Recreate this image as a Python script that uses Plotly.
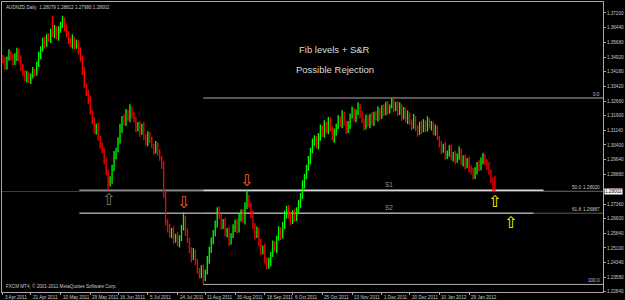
import plotly.graph_objects as go

# ---------------- data ----------------
symbol = "AUDNZD,Daily"
first_open = 1.3490
closes = [
    1.3474, 1.3443, 1.3484, 1.3515, 1.3495, 1.3464, 1.3490, 1.3525, 1.3484, 1.3443,
    1.3413, 1.3382, 1.3402, 1.3372, 1.3392, 1.3423, 1.3413, 1.3454, 1.3500, 1.3536,
    1.3577, 1.3556, 1.3597, 1.3587, 1.3628, 1.3608, 1.3638, 1.3597, 1.3628, 1.3659,
    1.3679, 1.3649, 1.3608, 1.3577, 1.3556, 1.3587, 1.3546, 1.3567, 1.3525, 1.3484,
    1.3423, 1.3346, 1.3310, 1.3269, 1.3207, 1.3166, 1.3115, 1.3136, 1.3074, 1.3038,
    1.3012, 1.2961, 1.2900, 1.2838, 1.2859, 1.2920, 1.2987, 1.3012, 1.3064, 1.3125,
    1.3177, 1.3156, 1.3207, 1.3177, 1.3228, 1.3192, 1.3166, 1.3125, 1.3146, 1.3105,
    1.3136, 1.3084, 1.3054, 1.3095, 1.3064, 1.3033, 1.3012, 1.3043, 1.3002, 1.2971,
    1.2936, 1.2782, 1.2643, 1.2612, 1.2576, 1.2602, 1.2551, 1.2571, 1.2530, 1.2561,
    1.2612, 1.2664, 1.2592, 1.2551, 1.2500, 1.2458, 1.2489, 1.2438, 1.2397, 1.2366,
    1.2407, 1.2356, 1.2387, 1.2448, 1.2500, 1.2541, 1.2592, 1.2633, 1.2705, 1.2674,
    1.2623, 1.2643, 1.2582, 1.2602, 1.2541, 1.2571, 1.2612, 1.2643, 1.2602, 1.2664,
    1.2694, 1.2653, 1.2725, 1.2766, 1.2730, 1.2684, 1.2623, 1.2571, 1.2602, 1.2541,
    1.2489, 1.2510, 1.2448, 1.2417, 1.2438, 1.2479, 1.2530, 1.2500, 1.2561, 1.2602,
    1.2571, 1.2623, 1.2684, 1.2715, 1.2674, 1.2643, 1.2694, 1.2664, 1.2705, 1.2735,
    1.2777, 1.2838, 1.2879, 1.2920, 1.2961, 1.3012, 1.3054, 1.3074, 1.3033, 1.3084,
    1.3125, 1.3095, 1.3146, 1.3115, 1.3166, 1.3125, 1.3074, 1.3105, 1.3136, 1.3177,
    1.3146, 1.3197, 1.3156, 1.3115, 1.3146, 1.3187, 1.3218, 1.3177, 1.3207, 1.3238,
    1.3197, 1.3166, 1.3136, 1.3177, 1.3146, 1.3187, 1.3156, 1.3197, 1.3177, 1.3218,
    1.3187, 1.3228, 1.3207, 1.3249, 1.3218, 1.3238, 1.3269, 1.3228, 1.3249, 1.3207,
    1.3238, 1.3187, 1.3218, 1.3166, 1.3197, 1.3156, 1.3136, 1.3177, 1.3125, 1.3105,
    1.3146, 1.3115, 1.3156, 1.3125, 1.3166, 1.3136, 1.3146, 1.3105, 1.3125, 1.3074,
    1.3043, 1.3012, 1.3033, 1.2982, 1.3002, 1.3023, 1.2971, 1.2992, 1.2961, 1.2982,
    1.3012, 1.2951, 1.2971, 1.2930, 1.2961, 1.2920, 1.2900, 1.2879, 1.2910, 1.2941,
    1.2920, 1.2961, 1.2982, 1.2951, 1.2930, 1.2900, 1.2859, 1.28079, 1.28002,
]
# wick lengths in pips above max(open, close) and below min(open, close)
wick_up = [
    15, 20, 12, 18, 10, 14, 22, 16, 12, 18,
    14, 10, 20, 12, 16, 18, 10, 14, 20, 12,
    16, 22, 14, 18, 12, 77, 20, 14, 24, 16,
    26, 18, 12, 20, 14, 22, 10, 16, 12, 18,
    14, 20, 10, 16, 22, 12, 18, 14, 20, 12,
    16, 10, 14, 12, 20, 18, 22, 14, 16, 24,
    12, 20, 18, 14, 22, 10, 16, 20, 12, 18,
    14, 22, 10, 16, 12, 20, 14, 18, 10, 16,
    12, 20, 16, 14, 22, 10, 18, 12, 20, 14,
    16, 30, 12, 18, 10, 14, 20, 12, 16, 10,
    14, 18, 12, 20, 16, 22, 10, 18, 14, 20,
    12, 16, 22, 10, 18, 14, 20, 12, 16, 22,
    14, 18, 20, 41, 16, 12, 20, 14, 18, 10,
    16, 12, 20, 14, 22, 10, 18, 16, 12, 20,
    14, 22, 18, 12, 16, 20, 10, 18, 14, 22,
    16, 20, 12, 18, 22, 14, 20, 16, 12, 18,
    20, 14, 22, 12, 18, 16, 10, 20, 14, 18,
    12, 22, 16, 10, 18, 14, 20, 12, 16, 22,
    14, 18, 10, 20, 16, 12, 22, 14, 18, 20,
    12, 16, 22, 14, 18, 10, 13, 20, 14, 16,
    22, 12, 18, 14, 20, 10, 16, 22, 12, 18,
    14, 20, 16, 10, 22, 12, 18, 14, 20, 16,
    12, 18, 14, 22, 10, 16, 20, 12, 18, 14,
    22, 10, 16, 20, 12, 18, 14, 22, 16, 12,
    20, 14, 18, 10, 16, 22, 12, 14, 73.3,
]
wick_dn = [
    12, 18, 14, 10, 20, 16, 12, 18, 14, 22,
    16, 12, 20, 14, 18, 10, 22, 16, 12, 18,
    14, 20, 10, 16, 22, 12, 18, 14, 20, 10,
    16, 22, 14, 18, 12, 20, 16, 10, 18, 14,
    22, 12, 18, 16, 10, 20, 14, 22, 12, 18,
    14, 20, 16, 31, 12, 18, 14, 20, 10, 16,
    22, 14, 18, 12, 20, 16, 10, 18, 14, 22,
    12, 18, 16, 20, 14, 10, 22, 16, 18, 12,
    20, 14, 18, 22, 12, 16, 20, 14, 10, 18,
    16, 12, 20, 14, 18, 22, 10, 16, 20, 14,
    12, 34, 18, 14, 20, 16, 12, 22, 18, 14,
    20, 16, 12, 18, 22, 14, 10, 20, 16, 12,
    18, 14, 22, 16, 12, 20, 14, 18, 10, 22,
    16, 12, 20, 18, 14, 22, 16, 10, 18, 14,
    20, 12, 16, 22, 14, 18, 10, 20, 16, 12,
    18, 14, 22, 16, 12, 20, 14, 18, 10, 16,
    22, 12, 18, 14, 20, 16, 10, 22, 18, 14,
    12, 20, 16, 18, 14, 22, 10, 16, 20, 12,
    18, 14, 22, 16, 12, 20, 14, 18, 10, 16,
    20, 12, 18, 14, 22, 16, 10, 20, 14, 18,
    12, 22, 16, 10, 18, 14, 20, 12, 16, 22,
    14, 18, 10, 20, 16, 12, 22, 14, 18, 10,
    16, 20, 12, 18, 14, 22, 10, 16, 20, 12,
    18, 14, 22, 16, 10, 20, 12, 18, 14, 22,
    16, 10, 20, 14, 18, 12, 16, 10, 2.2,
]
date_labels = ["3 Apr 2011", "21 Apr 2011", "10 May 2011", "29 May 2011", "16 Jun 2011",
               "5 Jul 2011", "24 Jul 2011", "11 Aug 2011", "30 Aug 2011", "18 Sep 2011",
               "6 Oct 2011", "25 Oct 2011", "13 Nov 2011", "1 Dec 2011", "20 Dec 2011",
               "10 Jan 2012", "29 Jan 2012"]
date_bars = [0, 14, 29, 44, 58, 73, 88, 102, 117, 132, 146, 161, 176, 191, 205, 220, 235]
price_tick_labels = ["1.37200", "1.36440", "1.35680", "1.34920", "1.34180", "1.33420",
                     "1.32660", "1.31900", "1.31140", "1.30400", "1.29640", "1.28880",
                     "1.28120", "1.27360", "1.26600", "1.25840", "1.25100", "1.24340",
                     "1.23580", "1.22840"]
fib_low_bar = 101
fib_high_bar = 196
fib_levels = [0.0, 50.0, 61.8, 100.0]
s1_price = 1.2807
s2_price = 1.2689

# ---------------- derived OHLC ----------------
n = len(closes)
bars = list(range(n))
opens = [first_open] + closes[:-1]
highs = [max(o, c) + w / 10000 for o, c, w in zip(opens, closes, wick_up)]
lows = [min(o, c) - w / 10000 for o, c, w in zip(opens, closes, wick_dn)]
fib_high = highs[fib_high_bar]
fib_low = lows[fib_low_bar]
fib_prices = [fib_high - lv / 100 * (fib_high - fib_low) for lv in fib_levels]
bid = closes[-1]

XMAX = 302.5
FONT = "Liberation Sans"
TXT = "#c8c8c8"

fig = go.Figure()
fig.add_trace(go.Ohlc(
    x=bars, open=opens, high=highs, low=lows, close=closes,
    increasing=dict(line=dict(color="#00ff00", width=1.3)),
    decreasing=dict(line=dict(color="#ff0000", width=1.3)),
    tickwidth=0.25, hoverinfo="skip", showlegend=False,
))

shapes = []
def hline(y, x0, x1, color, width=1):
    shapes.append(dict(type="line", xref="x", yref="y", x0=x0, x1=x1, y0=y, y1=y,
                       line=dict(color=color, width=width), layer="below"))

# bid line
hline(bid, -0.5, XMAX, "#404040", 1)
# fib lines
for lv, p in zip(fib_levels, fib_prices):
    col = "#b0b0b0" if lv in (0.0, 100.0) else "#5a5a5a"
    hline(p, fib_low_bar, XMAX, col, 1)
# S1 / S2 lines
hline(s1_price, 38.5, fib_low_bar, "#8c8c8c", 1.5)
hline(s1_price, fib_low_bar, 272.5, "#d8d8d8", 1.5)
hline(s2_price, 38.5, 267.5, "#a0a0a0", 1.5)

ann = []
# header
ann.append(dict(xref="paper", yref="paper", x=0, y=1, xanchor="left", yanchor="top",
                xshift=2, yshift=-1, showarrow=False,
                text=f"{symbol}  {opens[-1]:.5f} {highs[-1]:.5f} {lows[-1]:.5f} {closes[-1]:.5f}",
                font=dict(family=FONT, size=4.6, color=TXT)))
# copyright
ann.append(dict(xref="paper", yref="paper", x=0, y=0, xanchor="left", yanchor="bottom",
                xshift=2, yshift=1, showarrow=False,
                text="FXCM MT4, © 2001-2011 MetaQuotes Software Corp.",
                font=dict(family=FONT, size=4.6, color=TXT)))
# titles
ann.append(dict(xref="paper", yref="paper", x=0.554, y=0.835, xanchor="center",
                yanchor="middle", showarrow=False,
                text="Fib levels + S&R", font=dict(family=FONT, size=9.5, color="#dcdcdc")))
ann.append(dict(xref="paper", yref="paper", x=0.554, y=0.766, xanchor="center",
                yanchor="middle", showarrow=False,
                text="Possible Rejection", font=dict(family=FONT, size=9.5, color="#dcdcdc")))
# S labels
ann.append(dict(xref="paper", yref="y", x=0.6436, y=s1_price, xanchor="center",
                yanchor="bottom", showarrow=False, text="S1",
                font=dict(family=FONT, size=6.5, color="#9a9a9a")))
ann.append(dict(xref="paper", yref="y", x=0.6436, y=s2_price, xanchor="center",
                yanchor="bottom", showarrow=False, text="S2",
                font=dict(family=FONT, size=6.5, color="#9a9a9a")))
# fib labels
for lv, p in zip(fib_levels, fib_prices):
    if lv in (0.0, 100.0):
        ann.append(dict(xref="paper", yref="y", x=1, y=p, xanchor="right", yanchor="bottom",
                        xshift=-1, yshift=-1, showarrow=False, text=f"{lv:.1f}",
                        font=dict(family=FONT, size=4.6, color=TXT)))
    else:
        ann.append(dict(xref="paper", yref="y", x=1, y=p, xanchor="right", yanchor="bottom",
                        xshift=-20, yshift=-1, showarrow=False, text=f"{lv:.1f}",
                        font=dict(family=FONT, size=4.6, color=TXT)))
        ann.append(dict(xref="paper", yref="y", x=1, y=p, xanchor="right", yanchor="bottom",
                        xshift=-1, yshift=-1, showarrow=False, text=f"{p:.5f}",
                        font=dict(family=FONT, size=4.6, color=TXT)))
# current price box
ann.append(dict(xref="paper", yref="y", x=1, y=bid, xanchor="left", yanchor="middle",
                xshift=1, showarrow=False, text=f"{bid:.5f}", bgcolor="#ffffff",
                borderpad=0, font=dict(family=FONT, size=4.6, color="#000000")))
# date labels
for lab, b in zip(date_labels, date_bars):
    ann.append(dict(xref="x", yref="paper", x=b, y=0, xanchor="left", yanchor="top",
                    xshift=0, yshift=-1, showarrow=False, text=lab,
                    font=dict(family=FONT, size=4.6, color=TXT)))
# arrows
ARW = "DejaVu Sans"
def arrow(x, y, up, color, yshift):
    ann.append(dict(xref="x", yref="y", x=x, y=y, showarrow=False,
                    text="⇧" if up else "⇩", xanchor="center",
                    yanchor="top" if up else "bottom", yshift=yshift,
                    font=dict(family=ARW, size=16, color=color)))
arrow(53, lows[53], True, "#6f806f", 2)
arrow(91, highs[91], False, "#ff5a3c", -2)
arrow(123, highs[123], False, "#ff5a3c", -2)
arrow(n - 1, lows[-1], True, "#ffff00", 2)
arrow(256, s2_price, True, "#ffff00", 2)

# the 1.28120 label sits under the current-price box in the reference
tickvals = [float(t) for t in price_tick_labels]
ticktext = ["" if t == "1.28120" else t for t in price_tick_labels]
ybottom = 1.2283
ytop = 1.2284 + 291 / 1950

fig.update_layout(
    width=625, height=300,
    margin=dict(l=1, r=18, t=1, b=8),
    paper_bgcolor="#000000", plot_bgcolor="#000000",
    shapes=shapes, annotations=ann,
    xaxis=dict(range=[-0.5, XMAX], showgrid=False, zeroline=False,
               rangeslider=dict(visible=False), showline=True, mirror=True,
               linecolor="#a8a8a8", linewidth=1,
               tickvals=date_bars, ticks="outside", ticklen=2, tickcolor="#a8a8a8",
               showticklabels=False),
    yaxis=dict(range=[ybottom, ytop], side="right", showgrid=False, zeroline=False,
               showline=True, mirror=True, linecolor="#a8a8a8", linewidth=1,
               tickvals=tickvals, ticktext=ticktext, ticks="outside",
               ticklen=2, tickcolor="#a8a8a8",
               tickfont=dict(family=FONT, size=4.6, color=TXT)),
    font=dict(family=FONT),
)

fig.write_html("out.html")
